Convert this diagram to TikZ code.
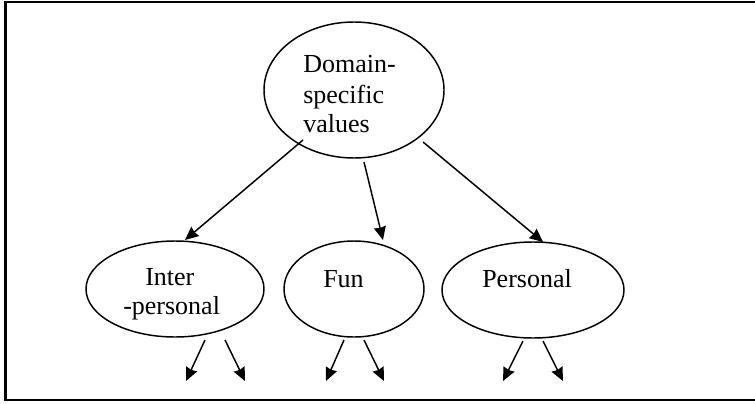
\documentclass[tikz,border=0pt]{standalone}
\usepackage{fontspec}
\setmainfont{Liberation Serif}
\usetikzlibrary{shapes.geometric,arrows.meta,calc}
\begin{document}
\begin{tikzpicture}[x=0.75pt,y=-0.75pt,
  oval/.style={draw,ellipse,line width=1.1pt,inner sep=0pt},
  lbl/.style={anchor=base west,inner sep=0pt,font=\fontsize{19.5}{22.5}\selectfont},
  link/.style={line width=1.1pt,-{Stealth[length=10pt,width=9pt,inset=0.8pt]}},
  frame/.style={line width=1.6pt}]
\useasboundingbox (0,0) rectangle (755,403);
% open frame (no right side)
\draw[frame] (755,2) -- (5.5,2) -- (5.5,400) -- (755,400);

% ellipses
\node[oval,minimum width=135pt,minimum height=102pt] (top) at (354,90) {};
\node[oval,minimum width=133.5pt,minimum height=72pt] (inter) at (175,289) {};
\node[oval,minimum width=105pt,minimum height=72pt] (fun) at (354,289) {};
\node[oval,minimum width=136.5pt,minimum height=72pt] (pers) at (533,290) {};

% labels
\node[lbl] (d1) at (303,73) {Domain-};
\node[lbl] (d2) at (303,103) {specific};
\node[lbl] (d3) at (303,132) {values};
\node[lbl] (i1) at (145,285) {Inter};
\node[lbl] (i2) at (123,314) {-personal};
\node[lbl] (f1) at (323,287) {Fun};
\node[lbl] (p1) at (482,287) {Personal};

% links from the root
\draw[link] ($(top.center)+(-51,50)$) -- ($(inter.center)+(10,-49)$);
\draw[link] ($(top.center)+(10,72)$) -- ($(fun.center)+(29,-49)$);
\draw[link] ($(top.center)+(69,52)$) -- ($(pers.center)+(10,-48)$);

% open ends below each child
\coordinate (ia) at (186,381);
\coordinate (ib) at (245,381);
\coordinate (fa) at (326,381);
\coordinate (fb) at (384,381);
\coordinate (pa) at (503,381);
\coordinate (pb) at (563,381);
\draw[link] ($(inter.center)+(30,51)$) -- (ia);
\draw[link] ($(inter.center)+(50,51)$) -- (ib);
\draw[link] ($(fun.center)+(-10,51)$) -- (fa);
\draw[link] ($(fun.center)+(10,51)$) -- (fb);
\draw[link] ($(pers.center)+(-10,51)$) -- (pa);
\draw[link] ($(pers.center)+(10,51)$) -- (pb);
\end{tikzpicture}
\end{document}
